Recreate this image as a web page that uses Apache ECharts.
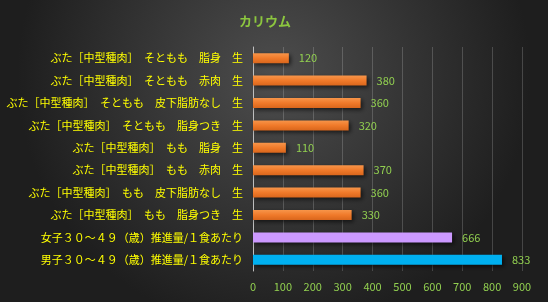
<!DOCTYPE html>
<html><head><meta charset="utf-8">
<script src="https://cdn.jsdelivr.net/npm/echarts@6/dist/echarts.min.js"></script>
<style>html,body{margin:0;padding:0;background:#2a2a2a}#c{width:548px;height:302px}</style>
</head><body><div id="c"></div>
<script>
const title = 'カリウム';
const categories = [
  'ぶた［中型種肉］　そともも　脂身　生',
  'ぶた［中型種肉］　そともも　赤肉　生',
  'ぶた［中型種肉］　そともも　皮下脂肪なし　生',
  'ぶた［中型種肉］　そともも　脂身つき　生',
  'ぶた［中型種肉］　もも　脂身　生',
  'ぶた［中型種肉］　もも　赤肉　生',
  'ぶた［中型種肉］　もも　皮下脂肪なし　生',
  'ぶた［中型種肉］　もも　脂身つき　生',
  '女子３０～４９（歳）推進量/１食あたり',
  '男子３０～４９（歳）推進量/１食あたり'
];
const values = [120, 380, 360, 320, 110, 370, 360, 330, 666, 833];
const xTicks = [0, 100, 200, 300, 400, 500, 600, 700, 800, 900];

const orange = {type:'linear',x:0,y:0,x2:0,y2:1,colorStops:[{offset:0,color:'#f7954a'},{offset:0.5,color:'#f07a2a'},{offset:1,color:'#d9661c'}]};
const barColors = values.map((v,i)=> i===8 ? '#cc99ff' : (i===9 ? '#00b0f0' : orange));

const chart = echarts.init(document.getElementById('c'));
chart.setOption({
  backgroundColor: {type:'radial', x:0.5, y:0.25, r:0.85, colorStops:[{offset:0,color:'#4d4d4d'},{offset:1,color:'#1e1e1e'}]},
  textStyle:{fontFamily:'"Noto Sans CJK JP", sans-serif'},
  title:{text:title, left:260, top:10, textAlign:'center',
    textStyle:{color:'#8cc63f', fontSize:13, fontWeight:'bold', fontFamily:'"Noto Sans CJK JP", sans-serif'}},
  grid:{left:253, top:47, width:269, height:224, containLabel:false},
  xAxis:{type:'value', min:xTicks[0], max:xTicks[xTicks.length-1], interval:100,
    axisLine:{show:false}, axisTick:{show:false},
    splitLine:{show:true, lineStyle:{color:'rgba(255,255,255,0.18)', width:1}},
    axisLabel:{color:'#92d050', fontSize:11, margin:10, fontFamily:'"Noto Sans CJK JP", sans-serif'}},
  yAxis:{type:'category', data:categories, inverse:true,
    axisLine:{show:true, lineStyle:{color:'#bfbfbf', width:1}}, axisTick:{show:false},
    axisLabel:{color:'#ffff00', fontSize:11, margin:10, fontFamily:'"Noto Sans CJK JP", sans-serif'}},
  series:[{type:'bar', barWidth:10,
    data: values.map((v,i)=>({value:v, itemStyle:{color:barColors[i]}})),
    itemStyle:{shadowColor:'rgba(0,0,0,0.6)', shadowBlur:4, shadowOffsetX:2, shadowOffsetY:2},
    label:{show:true, position:'right', distance:10, color:'#92d050', fontSize:11,
      fontFamily:'"Noto Sans CJK JP", sans-serif'}
  }]
});
</script></body></html>
